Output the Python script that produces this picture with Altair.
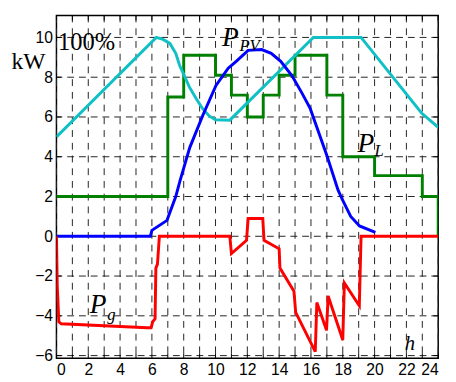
import altair as alt
import pandas as pd

# ---- data ----
soc_h = [0, 6.28, 6.7, 7.13, 7.5, 7.74, 8.36, 8.8, 9.18, 9.6, 10.0, 10.9, 16.15, 19.15, 22.95, 24]
soc_v = [5.0, 10.0, 9.9, 9.7, 9.2, 8.6, 7.5, 6.9, 6.43, 6.05, 5.86, 5.84, 10.0, 10.0, 6.2, 5.48]

load_h = [0, 7, 7, 8, 8, 10, 10, 11, 11, 12, 12, 13, 13, 14, 14, 15, 15, 17, 17, 18, 18, 20, 20, 23, 23, 24, 24]
load_v = [2, 2, 7.0, 7.0, 9.1, 9.1, 8.1, 8.1, 7.1, 7.1, 6.0, 6.0, 7.1, 7.1, 8.1, 8.1, 9.1, 9.1, 7.1, 7.1, 4.0, 4.0, 3.05, 3.05, 2.0, 2.0, 0]

pv_h = [0, 5.9, 6.0, 6.95, 7.5, 7.77, 8.38, 9.21, 10.03, 10.8, 11.3, 12.05, 12.9, 13.5, 14.1, 14.8, 15.4, 15.95, 17.0, 17.7, 18.0, 18.5, 19.05, 20.05]
pv_v = [0, 0, 0.3, 0.8, 2.0, 2.8, 4.46, 6.1, 7.59, 8.45, 8.8, 9.35, 9.39, 9.2, 8.8, 8.08, 7.25, 6.43, 4.06, 2.33, 1.8, 1.0, 0.52, 0.2]

grid_h = [0, 0.05, 0.15, 0.3, 5.7, 5.95, 6.05, 6.2, 6.25, 6.35, 6.47, 10.9, 11.0, 11.95, 12.05, 12.97, 13.05, 14.0, 14.05, 14.93, 15.04, 16.27, 16.37, 16.98, 17.08, 18.0, 18.1, 19.04, 19.15, 24]
grid_v = [0, -2.5, -4.3, -4.4, -4.6, -4.6, -4.3, -4.15, -1.6, -1.4, 0, 0, -0.87, -0.2, 0.89, 0.89, -0.2, -0.63, -1.6, -2.76, -3.83, -5.8, -3.33, -4.73, -3.0, -5.22, -2.35, -3.5, 0, 0]

x_ticks = list(range(0, 25))
y_ticks = [-6, -4, -2, 0, 2, 4, 6, 8, 10]

W, H = 390, 350
XD = [0, 24]
YD = [-6.13, 11.1]

xs = alt.Scale(domain=XD, nice=False, zero=False)
ys = alt.Scale(domain=YD, nice=False, zero=False)

xax = alt.Axis(values=x_ticks, labelExpr="datum.value % 2 == 0 ? datum.label : ''",
               title=None, ticks=False, grid=False, domain=False,
               labelFont="Liberation Sans", labelFontSize=16, labelColor="black", labelPadding=4)
yax = alt.Axis(values=y_ticks, title=None, ticks=False, grid=False, domain=False,
               labelFont="Liberation Sans", labelFontSize=16, labelColor="black", labelPadding=4)

def X(f):
    return alt.X(f, scale=xs, axis=xax)

def Y(f):
    return alt.Y(f, scale=ys, axis=yax)

def series(h, v, color):
    df = pd.DataFrame({"h": h, "v": v, "i": range(len(h))})
    return alt.Chart(df).mark_line(color=color, strokeWidth=3, clip=True).encode(
        x=X("h:Q"), y=Y("v:Q"), order="i:Q")

xaxis_df = pd.DataFrame({"t": x_ticks})
yaxis_df = pd.DataFrame({"t": y_ticks})

xgrid = alt.Chart(xaxis_df).mark_rule(color="#222222", strokeWidth=1, strokeDash=[7, 6]).encode(x=X("t:Q"))
ygrid = alt.Chart(yaxis_df).mark_rule(color="#222222", strokeWidth=1, strokeDash=[7, 5]).encode(y=Y("t:Q"))

bt = alt.Chart(xaxis_df).mark_rule(color="black", strokeWidth=1).encode(
    x=X("t:Q"), y=alt.value(H), y2=alt.value(H - 5))
tt = alt.Chart(xaxis_df).mark_rule(color="black", strokeWidth=1).encode(
    x=X("t:Q"), y=alt.value(0), y2=alt.value(5))
lt = alt.Chart(yaxis_df).mark_rule(color="black", strokeWidth=1).encode(
    y=Y("t:Q"), x=alt.value(0), x2=alt.value(5))
rt = alt.Chart(yaxis_df).mark_rule(color="black", strokeWidth=1).encode(
    y=Y("t:Q"), x=alt.value(W), x2=alt.value(W - 5))

def px(x):
    return (x - XD[0]) / (XD[1] - XD[0]) * W

def py(y):
    return (YD[1] - y) / (YD[1] - YD[0]) * H

def txt(s, x, y, size, italic=False, pix=False):
    m = alt.Chart(pd.DataFrame({"a": [0]})).mark_text(
        text=s, font="Liberation Serif", fontSize=size, fontStyle="italic" if italic else "normal",
        align="left", baseline="alphabetic", color="black")
    if pix:
        return m.encode(x=alt.value(x), y=alt.value(y))
    return m.encode(x=alt.value(px(x)), y=alt.value(py(y)))

labels = [
    txt("100%", 0.1, 9.36, 25),
    txt("kW", -46, 55, 24, pix=True),
    txt("P", 10.41, 9.56, 28, italic=True),
    txt("PV", 11.5, 9.31, 17, italic=True),
    txt("P", 18.92, 4.22, 28, italic=True),
    txt("L", 20.0, 4.02, 17, italic=True),
    txt("P", 2.1, -3.86, 28, italic=True),
    txt("g", 3.2, -4.2, 17, italic=True),
    txt("h", 21.9, -5.71, 21, italic=True),
]

chart = alt.layer(
    xgrid, ygrid, bt, tt, lt, rt,
    series(load_h, load_v, "#008000"),
    series(soc_h, soc_v, "#10C0C4"),
    series(pv_h, pv_v, "#0000FF"),
    series(grid_h, grid_v, "#FF0000"),
    *labels,
).properties(
    width=W, height=H,
    autosize=alt.AutoSizeParams(type="none"),
    padding={"left": 49.5, "top": 3.7, "right": 10, "bottom": 20},
    background="white",
).configure_view(stroke="black", strokeWidth=1.5).configure_axis(
    labelFont="Liberation Sans", labelFontSize=16, labelColor="black"
)

chart.save("out.html", embed_options={"renderer": "svg", "actions": False})
